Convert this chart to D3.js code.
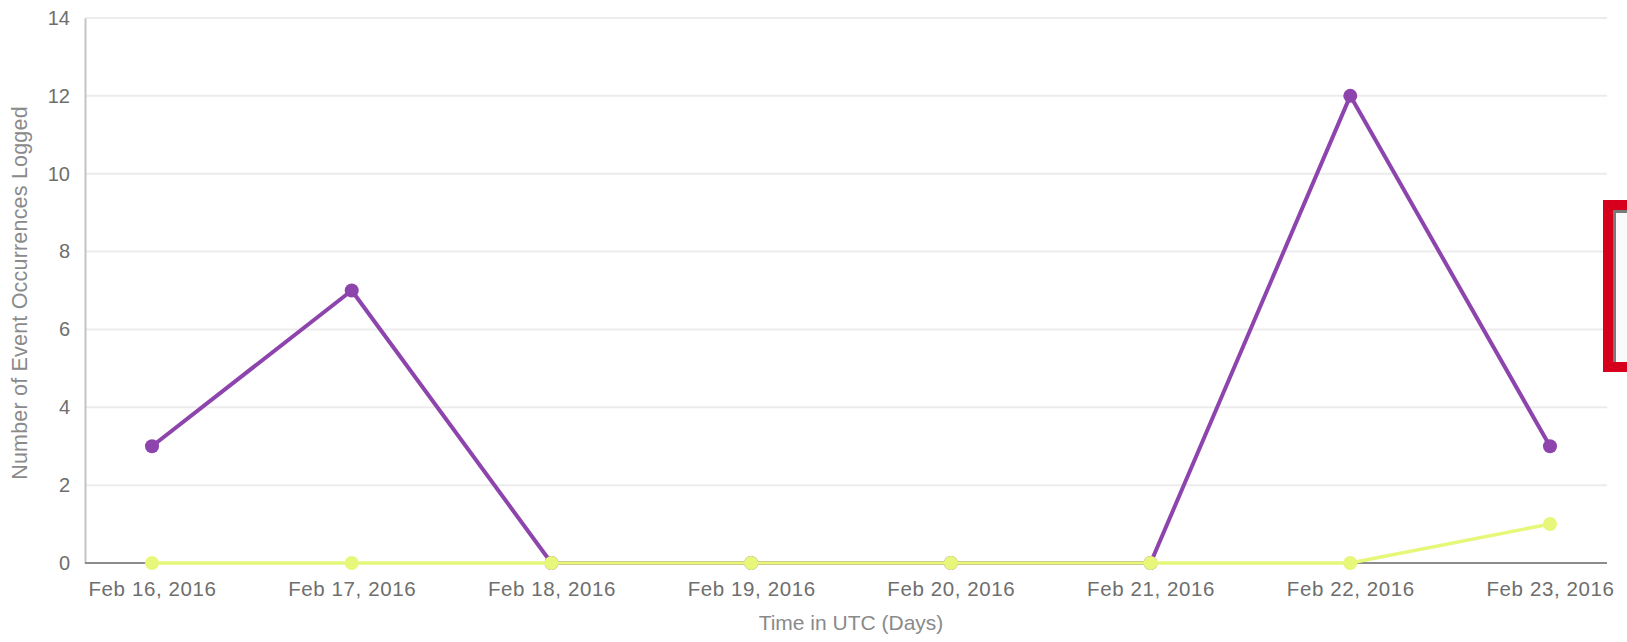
<!DOCTYPE html>
<meta charset="utf-8">
<style>
  body { margin: 0; background: #fff; }
  text { font-family: "Liberation Sans", Arial, sans-serif; }
</style>
<body>
<script src="https://d3js.org/d3.v7.min.js"></script>
<script>

var width = 1627,
    height = 642;

// data
var days = ["2016-02-16", "2016-02-17", "2016-02-18", "2016-02-19",
            "2016-02-20", "2016-02-21", "2016-02-22", "2016-02-23"];
var purpleSeries = [3, 7, 0, 0, 0, 0, 12, 3];
var yellowSeries = [0, 0, 0, 0, 0, 0, 0, 1];
var yTicks = [0, 2, 4, 6, 8, 10, 12, 14];

var plotLeft = 85, plotRight = 1607, plotTop = 18, plotBottom = 563;

var parse = d3.utcParse("%Y-%m-%d");
var dates = days.map(parse);

var svg = d3.select("body").append("svg")
    .attr("width", width)
    .attr("height", height);

var x = d3.scaleUtc()
    .domain(d3.extent(dates))
    .range([152, 1550]);

var y = d3.scaleLinear()
    .domain([0, 14])
    .range([plotBottom, plotTop]);

// grid
svg.append("g")
  .selectAll("line")
  .data(yTicks.filter(d => d > 0))
  .join("line")
    .attr("x1", plotLeft).attr("x2", plotRight)
    .attr("y1", d => y(d)).attr("y2", d => y(d))
    .attr("stroke", "#ececec")
    .attr("stroke-width", 2);

// y axis
var yAxis = svg.append("g")
    .attr("transform", "translate(" + plotLeft + ",0)")
    .call(d3.axisLeft(y).tickValues(yTicks).tickSize(0).tickPadding(15));
yAxis.select(".domain").attr("stroke", "#c4c4c4").attr("stroke-width", 2);
yAxis.selectAll("text")
    .attr("font-size", 20)
    .attr("fill", "#6e6e6e");

// x axis
var xAxis = svg.append("g")
    .attr("transform", "translate(0," + plotBottom + ")")
    .call(d3.axisBottom(x).tickValues(dates).tickFormat(d3.utcFormat("%b %d, %Y")).tickSize(0).tickPadding(18));
xAxis.select(".domain").remove();
xAxis.selectAll("text")
    .attr("font-size", 20.5)
    .attr("letter-spacing", 0.6)
    .attr("fill", "#6e6e6e");

svg.append("line")
    .attr("x1", plotLeft).attr("x2", plotRight)
    .attr("y1", plotBottom).attr("y2", plotBottom)
    .attr("stroke", "#8c8c8c")
    .attr("stroke-width", 2);

// axis titles
svg.append("text")
    .attr("transform", "translate(27,293) rotate(-90)")
    .attr("text-anchor", "middle")
    .attr("font-size", 21.5)
    .attr("letter-spacing", 0.2)
    .attr("fill", "#8a8a8a")
    .text("Number of Event Occurrences Logged");

svg.append("text")
    .attr("x", 851)
    .attr("y", 630)
    .attr("text-anchor", "middle")
    .attr("font-size", 21)
    .attr("fill", "#8a8a8a")
    .text("Time in UTC (Days)");

var line = d3.line()
    .x((d, i) => x(dates[i]))
    .y(d => y(d));

function drawSeries(values, color, r, w) {
  svg.append("path")
      .datum(values)
      .attr("fill", "none")
      .attr("stroke", color)
      .attr("stroke-width", w)
      .attr("stroke-linejoin", "round")
      .attr("d", line);
  svg.append("g")
    .selectAll("circle")
    .data(values)
    .join("circle")
      .attr("cx", (d, i) => x(dates[i]))
      .attr("cy", d => y(d))
      .attr("r", r)
      .attr("fill", color);
}

drawSeries(purpleSeries, "#8e44ad", 7, 4);
drawSeries(yellowSeries, "#e6f77a", 7, 3.5);

// red highlight box cut off at the right edge
svg.append("rect")
    .attr("x", 1608).attr("y", 205)
    .attr("width", 60).attr("height", 162)
    .attr("fill", "#fafafa")
    .attr("stroke", "#d6001c")
    .attr("stroke-width", 10);
svg.append("line")
    .attr("x1", 1614.5).attr("x2", 1614.5)
    .attr("y1", 210).attr("y2", 362)
    .attr("stroke", "#7a7a7a")
    .attr("stroke-width", 3);
svg.append("line")
    .attr("x1", 1613).attr("x2", 1627)
    .attr("y1", 211.5).attr("y2", 211.5)
    .attr("stroke", "#7a7a7a")
    .attr("stroke-width", 3);

</script>
